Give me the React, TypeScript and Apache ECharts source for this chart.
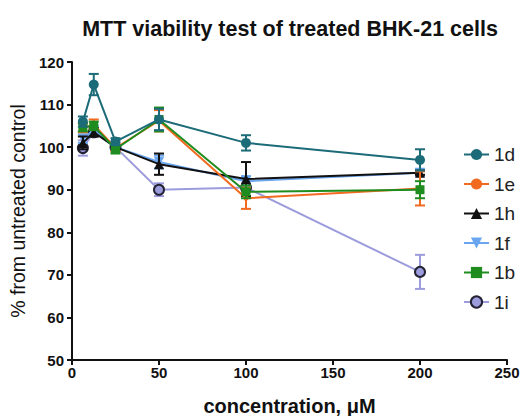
import React, { useEffect, useRef } from "react";
import * as echarts from "echarts";

const concentrations = [6.25, 12.5, 25, 50, 100, 200];
const seriesNames = ["1d", "1e", "1h", "1f", "1b", "1i"];
const v1d = [106, 114.7, 101.3, 106.5, 101, 97];
const e1d = [1.2, 2.5, 0.8, 2.5, 1.8, 2.5];
const v1e = [104.5, 105.3, 99.8, 106.2, 88, 90.3];
const e1e = [1, 1.2, 0.8, 2.5, 2.5, 4];
const v1h = [101, 103.5, 100, 96, 92.5, 94];
const e1h = [1.5, 1, 0.5, 2.5, 4, 0.5];
const v1f = [102, 104, 100, 96.5, 92, 94];
const e1f = [1, 1, 0.5, 1.5, 1.2, 0.8];
const v1b = [104.7, 105, 99.5, 106.5, 89.5, 90];
const e1b = [1, 1, 1, 2.8, 1.5, 2];
const v1i = [99.8, 103.5, 100, 90, 90.5, 70.7];
const e1i = [1.8, 1, 0.5, 1.5, 1, 4];

const FONT = "Arial, 'Liberation Sans', sans-serif";

export default function App() {
  const ref = useRef<HTMLDivElement>(null);
  useEffect(() => {
    const chart = echarts.init(ref.current!, null, { renderer: "svg" });
    const defs = [
      { name: "1d", v: v1d, e: e1d, color: "#1c6b78", symbol: "circle", size: 10, border: "#1c6b78", z: 8 },
      { name: "1e", v: v1e, e: e1e, color: "#f26a1f", symbol: "circle", size: 5, border: "#f26a1f", z: 6 },
      { name: "1h", v: v1h, e: e1h, color: "#111111", symbol: "triangle", size: 10, border: "#111111", z: 5 },
      { name: "1f", v: v1f, e: e1f, color: "#6aa6f0", symbol: "path://M0,0 L10,0 L5,9 Z", size: 10, border: "#6aa6f0", z: 4 },
      { name: "1b", v: v1b, e: e1b, color: "#1f8c1f", symbol: "rect", size: 9, border: "#1f8c1f", z: 7 },
      { name: "1i", v: v1i, e: e1i, color: "#9c9cdc", symbol: "circle", size: 10, border: "#222233", z: 3 },
    ];
    const series: any[] = [];
    defs.forEach((d) => {
      series.push({
        name: d.name,
        type: "line",
        data: concentrations.map((c, i) => [c, d.v[i]]),
        symbol: d.symbol,
        symbolSize: d.size,
        z: d.z,
        lineStyle: { color: d.color, width: 2 },
        itemStyle: { color: d.color, borderColor: d.border, borderWidth: d.name === "1i" ? 2 : 0 },
      });
      series.push({
        name: d.name + "-err",
        type: "custom",
        z: d.z,
        data: concentrations.map((c, i) => [c, d.v[i], d.e[i]]),
        renderItem: (params: any, api: any) => {
          const x = api.value(0);
          const y = api.value(1);
          const e = api.value(2);
          const top = api.coord([x, y + e]);
          const bot = api.coord([x, y - e]);
          const hw = 5;
          const style = { stroke: d.color, lineWidth: 2 };
          return {
            type: "group",
            children: [
              { type: "line", shape: { x1: top[0], y1: top[1], x2: bot[0], y2: bot[1] }, style },
              { type: "line", shape: { x1: top[0] - hw, y1: top[1], x2: top[0] + hw, y2: top[1] }, style },
              { type: "line", shape: { x1: bot[0] - hw, y1: bot[1], x2: bot[0] + hw, y2: bot[1] }, style },
            ],
          };
        },
      });
    });
    chart.setOption({
      animation: false,
      title: {
        text: "MTT viability test of treated BHK-21 cells",
        left: 285,
        textAlign: "center",
        top: 13,
        textStyle: { fontFamily: FONT, fontWeight: "bold", fontSize: 21.5, color: "#111" },
      },
      legend: {
        data: seriesNames,
        orient: "vertical",
        left: 458,
        top: 140,
        itemGap: 10.5,
        itemWidth: 25,
        itemHeight: 14,
        textStyle: { fontFamily: FONT, fontSize: 19, color: "#222" },
      },
      grid: { left: 72, right: 16, top: 62, bottom: 56, containLabel: false, outerBoundsMode: "none" },
      xAxis: {
        type: "value",
        min: 0,
        max: 250,
        interval: 50,
        name: "concentration, μM",
        nameLocation: "middle",
        nameGap: 36,
        nameTextStyle: { fontFamily: FONT, fontWeight: "bold", fontSize: 20, color: "#111" },
        axisLine: { lineStyle: { color: "#111", width: 2 } },
        axisTick: { show: true, length: 5, lineStyle: { color: "#111", width: 2 } },
        axisLabel: { fontFamily: FONT, fontWeight: "bold", fontSize: 15, color: "#111", margin: 5 },
        splitLine: { show: false },
      },
      yAxis: {
        type: "value",
        min: 50,
        max: 120,
        interval: 10,
        name: "% from untreated control",
        nameLocation: "middle",
        nameGap: 40,
        nameTextStyle: { fontFamily: FONT, fontSize: 19.5, color: "#111" },
        axisLine: { show: true, lineStyle: { color: "#111", width: 2 } },
        axisTick: { show: true, length: 5, lineStyle: { color: "#111", width: 2 } },
        axisLabel: { fontFamily: FONT, fontWeight: "bold", fontSize: 15, color: "#111", margin: 8 },
        splitLine: { show: false },
      },
      series,
    });
    return () => chart.dispose();
  }, []);
  return <div ref={ref} style={{ width: 523, height: 416, position: "absolute", left: 0, top: 0 }} />;
}
